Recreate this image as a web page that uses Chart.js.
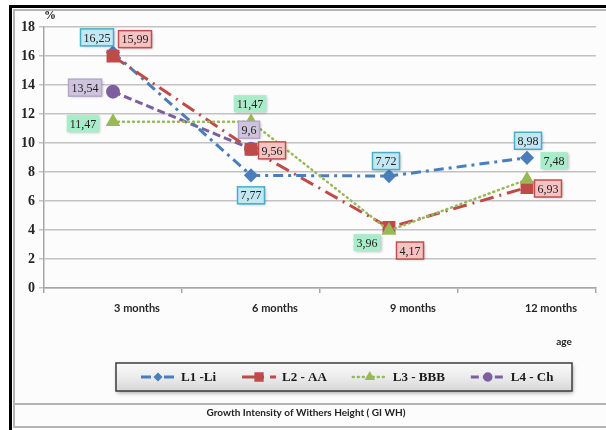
<!DOCTYPE html>
<html>
<head>
<meta charset="utf-8">
<script src="https://cdn.jsdelivr.net/npm/chart.js@4"></script>
<style>
  html, body { margin: 0; padding: 0; background: #fff; }
  #wrap { width: 606px; height: 430px; }
</style>
</head>
<body>
<div id="wrap"><canvas id="chart" width="606" height="430"></canvas></div>
<script>
const ageLabels = ["3 months", "6 months", "9 months", "12 months"];
const seriesNames = ["L1 -Li", "L2 - AA", "L3 - BBB", "L4 - Ch"];
const l1Li = [16.25, 7.77, 7.72, 8.98];
const l2AA = [15.99, 9.56, 4.17, 6.93];
const l3BBB = [11.47, 11.47, 3.96, 7.48];
const l4Ch = [13.54, 9.6, null, null];
const yTicks = [0, 2, 4, 6, 8, 10, 12, 14, 16, 18];

// where each value box sits relative to its point (dx, dy in px)
const labelOffsets = [
  [[-16, -15], [0, 20], [-3, -15], [1, -17]],
  [[22, -17], [21, 1], [21, 23], [21, 1]],
  [[-30, 2], [-1, -18], [-22, 12], [27, -19]],
  [[-28, -4], [-2, -19], null, null]
];
const labelFill = ["#c3e7f3", "#f5c3c2", "#a8ecc9", "#cfc4dd"];
const labelStroke = ["#4bacc6", "#c0504d", null, "#b6a6cc"];

const serif = "'Liberation Serif', 'DejaVu Serif', serif";
const sans = "Lato, 'Liberation Sans', sans-serif";

const fmt = v => String(v).replace(".", ",");

const framePlugin = {
  id: "frame",
  beforeDraw(chart) {
    const ctx = chart.ctx;
    ctx.save();
    ctx.fillStyle = "#ffffff";
    ctx.fillRect(0, 0, chart.width, chart.height);
    ctx.fillStyle = "#fcfcfc";
    ctx.fillRect(13, 9, 593, 418);
    // inner grey frame
    ctx.strokeStyle = "#b4b4b4";
    ctx.lineWidth = 2;
    ctx.beginPath();
    ctx.moveTo(14, 428); ctx.lineTo(14, 10); ctx.lineTo(606, 10);
    ctx.moveTo(14, 404); ctx.lineTo(606, 404);
    ctx.moveTo(14, 427); ctx.lineTo(606, 427);
    ctx.stroke();
    // outer black frame
    ctx.strokeStyle = "#000";
    ctx.lineWidth = 3;
    ctx.beginPath();
    ctx.moveTo(10.5, 430); ctx.lineTo(10.5, 6.5); ctx.lineTo(606, 6.5);
    ctx.stroke();
    ctx.restore();
  },
  afterDraw(chart) {
    const ctx = chart.ctx;
    ctx.save();
    ctx.fillStyle = "#222";
    ctx.font = "bold 12px " + serif;
    ctx.textAlign = "left";
    ctx.textBaseline = "middle";
    ctx.fillText("%", 44, 16);
    ctx.font = "bold 10px " + sans;
    ctx.textAlign = "center";
    ctx.fillText("age", 564, 342);
    ctx.fillText("Growth Intensity of Withers Height ( GI WH)", 306, 413);

    // legend box
    const bx = 116, by = 363, bw = 456, bh = 28;
    ctx.shadowColor = "rgba(0,0,0,0.35)";
    ctx.shadowBlur = 4;
    ctx.shadowOffsetX = 1;
    ctx.shadowOffsetY = 2;
    const g = ctx.createLinearGradient(0, by, 0, by + bh);
    g.addColorStop(0, "#fafafa");
    g.addColorStop(0.5, "#ececec");
    g.addColorStop(1, "#d6d6d6");
    ctx.fillStyle = g;
    ctx.fillRect(bx, by, bw, bh);
    ctx.shadowColor = "transparent";
    ctx.strokeStyle = "#3c3c3c";
    ctx.lineWidth = 1.5;
    ctx.strokeRect(bx, by, bw, bh);

    let x = 141;
    const cy = by + bh / 2;
    chart.data.datasets.forEach(ds => {
      ctx.save();
      ctx.strokeStyle = ds.borderColor;
      ctx.lineWidth = ds.borderWidth;
      ctx.lineCap = ds.borderCapStyle || "butt";
      ctx.setLineDash(ds.borderDash);
      ctx.beginPath();
      ctx.moveTo(x, cy); ctx.lineTo(x + 34, cy);
      ctx.stroke();
      ctx.restore();
      ctx.fillStyle = ds.borderColor;
      ctx.strokeStyle = ds.borderColor;
      ctx.setLineDash([]);
      Chart.helpers.drawPoint(ctx, {
        pointStyle: ds.pointStyle, radius: ds.pointRadius - 1.5, rotation: 0, borderWidth: 1
      }, x + 17, cy);
      ctx.fillStyle = "#1a1a1a";
      ctx.font = "bold 13px " + serif;
      ctx.textAlign = "left";
      ctx.fillText(ds.label, x + 40, cy + 1);
      x += 40 + ctx.measureText(ds.label).width + 26;
    });
    ctx.restore();
  }
};

const valueLabelPlugin = {
  id: "valueLabels",
  afterDatasetsDraw(chart) {
    const ctx = chart.ctx;
    ctx.save();
    ctx.font = "12px " + serif;
    ctx.textAlign = "center";
    ctx.textBaseline = "middle";
    chart.data.datasets.forEach((ds, di) => {
      const meta = chart.getDatasetMeta(di);
      meta.data.forEach((pt, i) => {
        const v = ds.data[i];
        if (v === null || !labelOffsets[di][i]) return;
        const [dx, dy] = labelOffsets[di][i];
        const txt = fmt(v);
        const w = ctx.measureText(txt).width + 6;
        const h = 17;
        const cx = pt.x + dx, cy = pt.y + dy;
        ctx.shadowColor = "rgba(0,0,0,0.3)";
        ctx.shadowBlur = 3;
        ctx.shadowOffsetX = 1;
        ctx.shadowOffsetY = 1;
        ctx.fillStyle = labelFill[di];
        ctx.fillRect(cx - w / 2, cy - h / 2, w, h);
        ctx.shadowColor = "transparent";
        if (labelStroke[di]) {
          ctx.strokeStyle = labelStroke[di];
          ctx.lineWidth = 1.5;
          ctx.strokeRect(cx - w / 2, cy - h / 2, w, h);
        }
        ctx.fillStyle = "#222";
        ctx.fillText(txt, cx, cy + 1);
      });
    });
    ctx.restore();
  }
};

const chart = new Chart(document.getElementById("chart"), {
  type: "line",
  data: {
    labels: ageLabels,
    datasets: [
      {
        label: seriesNames[0], data: l1Li, order: 2,
        borderColor: "#4a7ebb", backgroundColor: "#4a7ebb",
        borderWidth: 3, borderDash: [10, 5, 3, 5],
        pointStyle: "rectRot", pointRadius: 5
      },
      {
        label: seriesNames[1], data: l2AA, order: 1,
        borderColor: "#be4b48", backgroundColor: "#be4b48",
        borderWidth: 3, borderDash: [14, 6, 2, 6],
        pointStyle: "rect", pointRadius: 7
      },
      {
        label: seriesNames[2], data: l3BBB, order: 0,
        borderColor: "#98b954", backgroundColor: "#98b954",
        borderWidth: 2.5, borderDash: [1, 4], borderCapStyle: "round",
        pointStyle: "triangle", pointRadius: 6
      },
      {
        label: seriesNames[3], data: l4Ch, order: 3,
        borderColor: "#7d5fa0", backgroundColor: "#7d5fa0",
        borderWidth: 3, borderDash: [8, 4],
        pointStyle: "circle", pointRadius: 5.5
      }
    ]
  },
  options: {
    responsive: false,
    animation: false,
    events: [],
    layout: { padding: { left: 0, top: 27, right: 8, bottom: 112 } },
    plugins: {
      legend: { display: false },
      tooltip: { enabled: false },
      title: { display: false }
    },
    elements: {
      line: { tension: 0 },
      point: { borderWidth: 1, hoverRadius: 6 }
    },
    scales: {
      x: {
        offset: true,
        afterFit: s => { s.height = 30; },
        grid: {
          offset: true, drawOnChartArea: false, drawTicks: true,
          tickLength: 5, color: "#a6a6a6", lineWidth: 1.5
        },
        border: { color: "#a6a6a6", width: 1.5 },
        ticks: {
          labelOffset: 24, padding: 9,
          color: "#262626",
          font: { family: sans, size: 11, weight: "bold" }
        }
      },
      y: {
        min: 0, max: 18,
        afterFit: s => { s.width = 44; },
        afterBuildTicks: s => { s.ticks = yTicks.map(v => ({ value: v })); },
        grid: { color: "#c2c2c2", lineWidth: 1.5, tickLength: 5 },
        border: { color: "#a6a6a6", width: 1.5 },
        ticks: {
          padding: 4,
          color: "#262626",
          font: { family: serif, size: 14, weight: "bold" }
        }
      }
    }
  },
  plugins: [framePlugin, valueLabelPlugin]
});
</script>
</body>
</html>
